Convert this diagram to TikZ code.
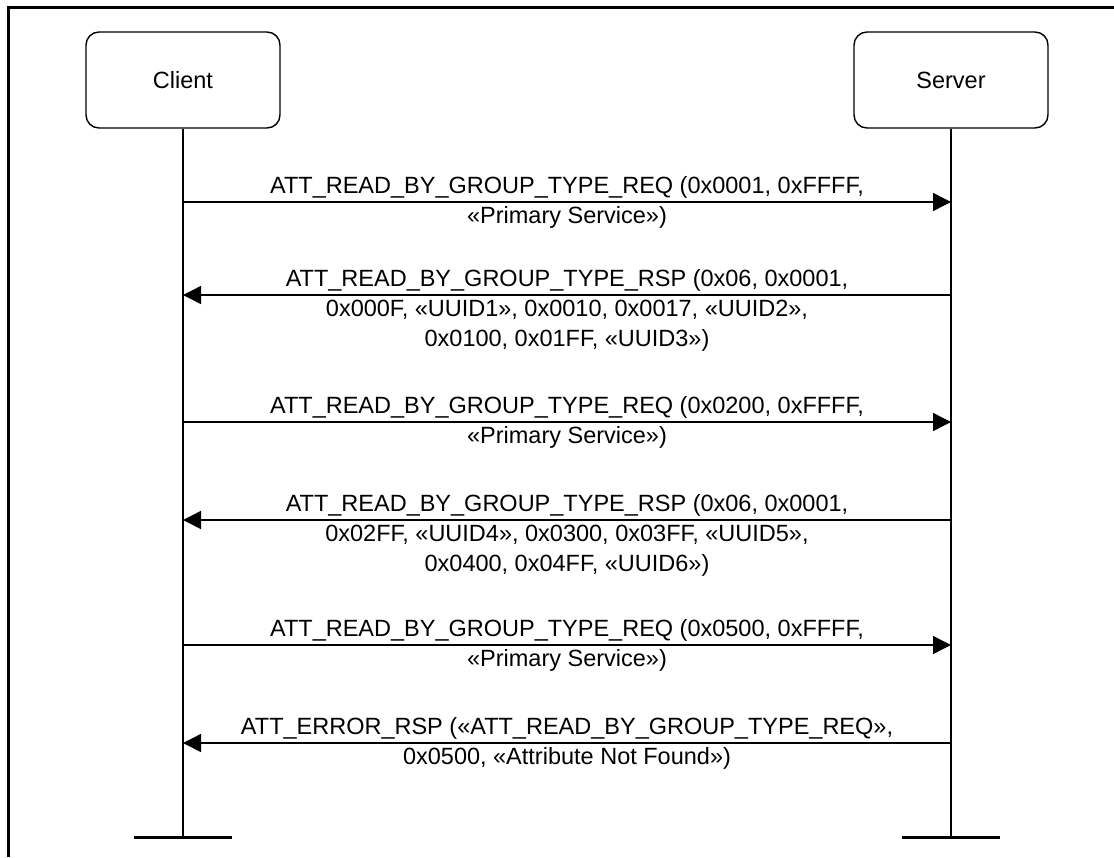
\documentclass[tikz,border=0pt]{standalone}
\usepackage{fontspec}
\setmainfont{Liberation Sans}
\usepackage{tikz}
\usetikzlibrary{arrows.meta}
\newcommand{\msglines}[1]{\begin{tabular}[t]{@{}c@{}}#1\end{tabular}}

\begin{document}
\begin{tikzpicture}[x=1pt,y=-1pt, every node/.style={font=\fontsize{23.5}{30}\selectfont}]
\tikzstyle{party}=[draw,line width=1.4pt,rounded corners=13pt,minimum width=194pt,minimum height=96pt,align=center]
\tikzstyle{msg}=[line width=1.4pt,-{Triangle[length=18pt,width=18pt]}]
\tikzstyle{lbl}=[anchor=base,yshift=9pt,inner sep=0pt]
\tikzstyle{bar}=[line width=3pt]
\useasboundingbox (0,0) rectangle (1114,857);
\draw[line width=3pt] (8,857) -- (8,7.5) -- (1114,7.5);
\node[party] (client) at (183,80) {Client};
\node[party] (server) at (951,80) {Server};
\coordinate (clientend) at (183,837);
\coordinate (serverend) at (951,837);
\draw[line width=1.4pt] (client.south) -- (clientend);
\draw[line width=1.4pt] (server.south) -- (serverend);
\draw[bar] ([xshift=-49pt]clientend) -- ([xshift=49pt]clientend);
\draw[bar] ([xshift=-49pt]serverend) -- ([xshift=49pt]serverend);
\coordinate (c1) at (183,202); \coordinate (s1) at (951,202);
\coordinate (c2) at (183,295); \coordinate (s2) at (951,295);
\coordinate (c3) at (183,422); \coordinate (s3) at (951,422);
\coordinate (c4) at (183,520); \coordinate (s4) at (951,520);
\coordinate (c5) at (183,645); \coordinate (s5) at (951,645);
\coordinate (c6) at (183,743); \coordinate (s6) at (951,743);
\draw[msg] (c1) -- node[lbl] {\msglines{ATT\_READ\_BY\_GROUP\_TYPE\_REQ (0x0001, 0xFFFF,\\«Primary Service»)}} (s1);
\draw[msg] (s2) -- node[lbl] {\msglines{ATT\_READ\_BY\_GROUP\_TYPE\_RSP (0x06, 0x0001,\\0x000F, «UUID1», 0x0010, 0x0017, «UUID2»,\\0x0100, 0x01FF, «UUID3»)}} (c2);
\draw[msg] (c3) -- node[lbl] {\msglines{ATT\_READ\_BY\_GROUP\_TYPE\_REQ (0x0200, 0xFFFF,\\«Primary Service»)}} (s3);
\draw[msg] (s4) -- node[lbl] {\msglines{ATT\_READ\_BY\_GROUP\_TYPE\_RSP (0x06, 0x0001,\\0x02FF, «UUID4», 0x0300, 0x03FF, «UUID5»,\\0x0400, 0x04FF, «UUID6»)}} (c4);
\draw[msg] (c5) -- node[lbl] {\msglines{ATT\_READ\_BY\_GROUP\_TYPE\_REQ (0x0500, 0xFFFF,\\«Primary Service»)}} (s5);
\draw[msg] (s6) -- node[lbl] {\msglines{ATT\_ERROR\_RSP («ATT\_READ\_BY\_GROUP\_TYPE\_REQ»,\\0x0500, «Attribute Not Found»)}} (c6);
\end{tikzpicture}
\end{document}
